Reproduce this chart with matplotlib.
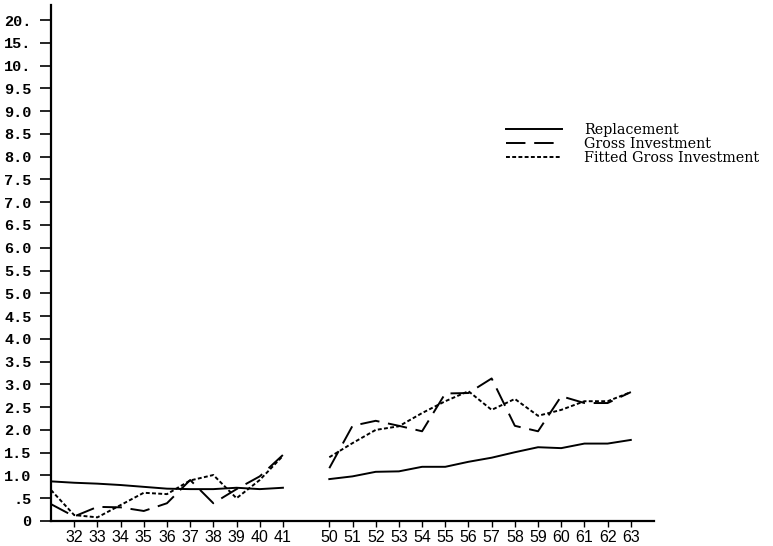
import numpy as np
import matplotlib
matplotlib.use("Agg")
import matplotlib.pyplot as plt

# ---- data ----
years_a = [31, 32, 33, 34, 35, 36, 37, 38, 39, 40, 41]
years_b = [50, 51, 52, 53, 54, 55, 56, 57, 58, 59, 60, 61, 62, 63]

repl_a = [0.87, 0.84, 0.82, 0.79, 0.75, 0.71, 0.70, 0.70, 0.73, 0.70, 0.73]
gross_a = [0.37, 0.10, 0.31, 0.30, 0.22, 0.39, 0.90, 0.39, 0.70, 0.98, 1.45]
fit_a = [0.68, 0.13, 0.08, 0.35, 0.62, 0.59, 0.89, 1.01, 0.50, 0.90, 1.43]

repl_b = [0.92, 0.98, 1.08, 1.09, 1.19, 1.19, 1.30, 1.39, 1.51, 1.62, 1.60, 1.70, 1.70, 1.78]
gross_b = [1.16, 2.09, 2.20, 2.09, 1.97, 2.80, 2.81, 3.13, 2.09, 1.97, 2.74, 2.59, 2.59, 2.83]
fit_b = [1.40, 1.71, 2.00, 2.08, 2.37, 2.63, 2.85, 2.44, 2.68, 2.31, 2.44, 2.63, 2.63, 2.83]

xtick_vals = [32, 33, 34, 35, 36, 37, 38, 39, 40, 41,
              50, 51, 52, 53, 54, 55, 56, 57, 58, 59, 60, 61, 62, 63]
ytick_vals = [0, 0.5, 1.0, 1.5, 2.0, 2.5, 3.0, 3.5, 4.0, 4.5, 5.0, 5.5, 6.0,
              6.5, 7.0, 7.5, 8.0, 8.5, 9.0, 9.5, 10.0, 15.0, 20.0]
ytick_labels = ["0", ".5", "1.0", "1.5", "2.0", "2.5", "3.0", "3.5", "4.0",
                "4.5", "5.0", "5.5", "6.0", "6.5", "7.0", "7.5", "8.0", "8.5",
                "9.0", "9.5", "10.", "15.", "20."]
labels = ["Replacement", "Gross Investment", "Fitted Gross Investment"]


# ---- piecewise scales ----
def yfwd(v):
    v = np.asarray(v, dtype=float)
    return np.where(v <= 10, v * 2.0, 20.0 + (v - 10.0) / 5.0)


def yinv(p):
    p = np.asarray(p, dtype=float)
    return np.where(p <= 20, p / 2.0, 10.0 + (p - 20.0) * 5.0)


def xfwd(x):
    x = np.asarray(x, dtype=float)
    return np.where(x <= 41, x - 31.0,
                    np.where(x >= 50, x - 38.0, 10.0 + (x - 41.0) * 2.0 / 9.0))


def xinv(p):
    p = np.asarray(p, dtype=float)
    return np.where(p <= 10, p + 31.0,
                    np.where(p >= 12, p + 38.0, 41.0 + (p - 10.0) * 9.0 / 2.0))


fig = plt.figure(figsize=(7.73, 5.46), dpi=100)
ax = fig.add_axes([51 / 773, 25 / 546, (654 - 51) / 773, (521 - 5) / 546])
ax.set_xscale("function", functions=(xfwd, xinv))
ax.set_yscale("function", functions=(yfwd, yinv))

lw = 1.4
dash = (0, (10, 4.5))
dot = (0, (2, 1.2))
ax.plot(years_a, repl_a, color="black", lw=lw, label=labels[0])
ax.plot(years_a, gross_a, color="black", lw=lw, linestyle=dash, label=labels[1])
ax.plot(years_a, fit_a, color="black", lw=lw, linestyle=dot, label=labels[2])
ax.plot(years_b, repl_b, color="black", lw=lw)
ax.plot(years_b, gross_b, color="black", lw=lw, linestyle=dash)
ax.plot(years_b, fit_b, color="black", lw=lw, linestyle=dot)

ax.set_xlim(31, 64)
ax.set_ylim(0, 23.3)

ax.set_xticks(xtick_vals)
ax.set_xticklabels([str(v) for v in xtick_vals], fontsize=11.5,
                   family="Liberation Sans")
ax.xaxis.set_minor_locator(matplotlib.ticker.NullLocator())
ax.set_yticks(ytick_vals)
ax.set_yticklabels(ytick_labels, fontsize=11, family="Liberation Mono",
                   fontweight="bold")
ax.yaxis.set_minor_locator(matplotlib.ticker.NullLocator())
ax.tick_params(axis="y", direction="out", length=8, width=1.2, pad=6)
ax.tick_params(axis="x", direction="out", length=4, width=1.0, pad=2.5)

for s in ["top", "right"]:
    ax.spines[s].set_visible(False)
ax.spines["left"].set_linewidth(1.6)
ax.spines["bottom"].set_linewidth(1.6)

leg = fig.legend(loc="upper left", bbox_to_anchor=(506 / 773, 1 - 123 / 546),
                 frameon=False, handlelength=3.9,
                 handletextpad=1.55, labelspacing=0.0, borderpad=0,
                 borderaxespad=0, prop={"family": "DejaVu Serif",
                                        "size": 10.3})

fig.savefig("out.png", dpi=100)
